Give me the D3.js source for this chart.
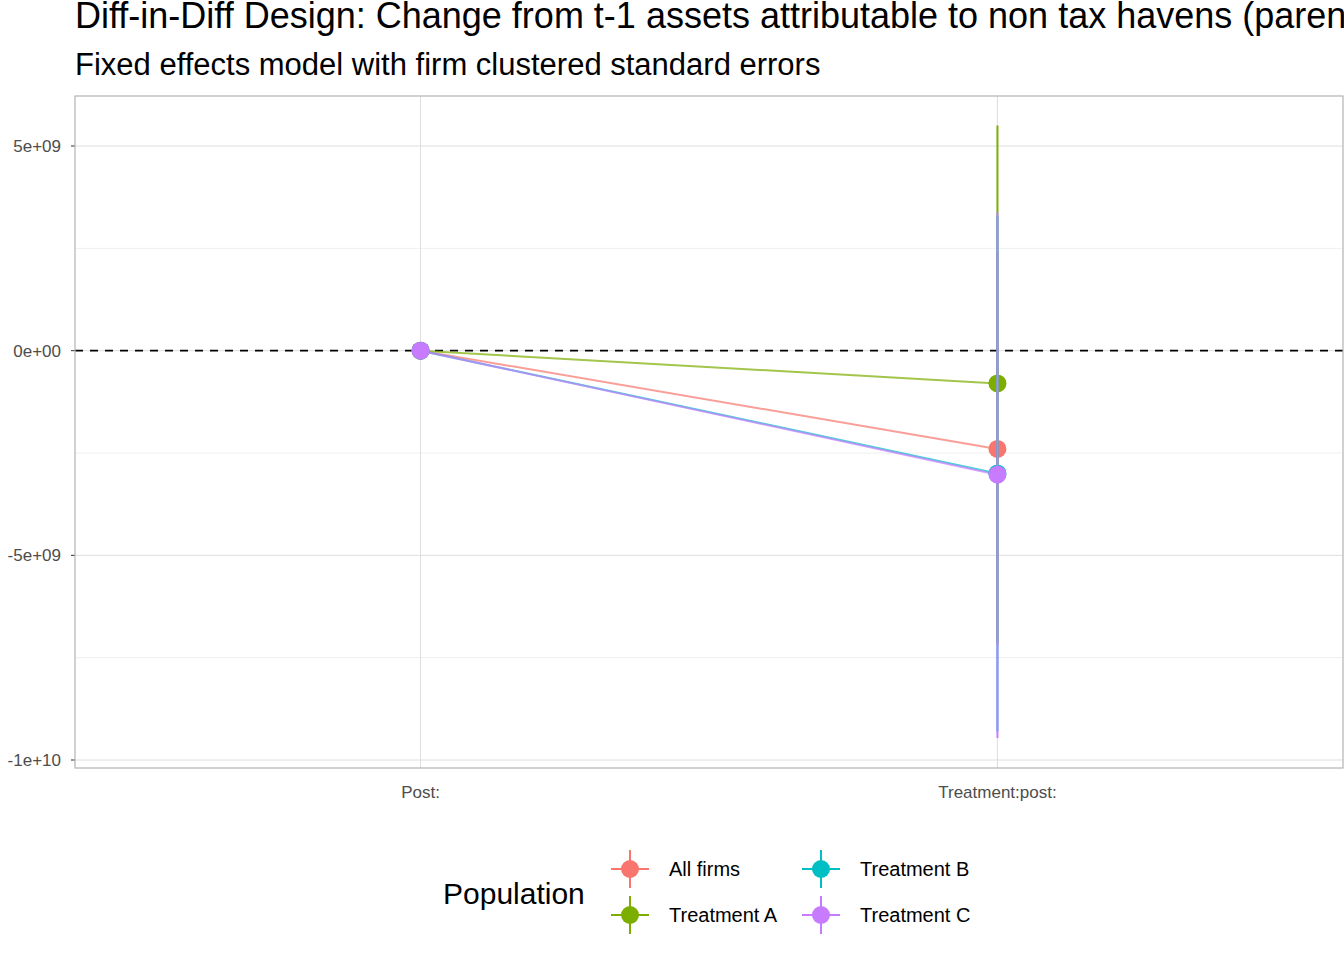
<!DOCTYPE html>
<html><head><meta charset="utf-8">
<script src="https://cdn.jsdelivr.net/npm/d3@7"></script>
<style>body{margin:0;background:#fff;font-family:Arial,"Liberation Sans",sans-serif;overflow:hidden}</style>
</head><body><div id="chart"></div>
<script>
const terms = ["Post:", "Treatment:post:"];
const populations = ["All firms", "Treatment A", "Treatment B", "Treatment C"];
const colors = ["#F8766D", "#7CAE00", "#00BFC4", "#C77CFF"];
// estimate, lower, upper per population for each term
const postEst = [0, 0, 0, 0];
const postLo = [-5e7, -5e7, -5e7, -5e7];
const postHi = [5e7, 5e7, 5e7, 5e7];
const tpEst = [-2.4e9, -0.8e9, -3.0e9, -3.03e9];
const tpLo = [-7.2e9, -7.1e9, -9.3e9, -9.46e9];
const tpHi = [2.4e9, 5.5e9, 3.3e9, 3.39e9];

const W = 1344, H = 960;
const svg = d3.select("#chart").append("svg").attr("width", W).attr("height", H);
const L = 75, R = 1343, T = 96, B = 768;

const x = d3.scalePoint().domain(terms).range([L, R]).padding(0.599);
const y = d3.scaleLinear().domain([-1e10, 5e9]).range([760, 146]);

const minor = [-7.5e9, -2.5e9, 2.5e9];
svg.selectAll(".mg").data(minor).enter().append("line")
  .attr("x1", L).attr("x2", R).attr("y1", d => y(d)).attr("y2", d => y(d))
  .attr("stroke", "#ebebeb").attr("stroke-width", 0.8);
const major = [-1e10, -5e9, 0, 5e9];
svg.selectAll(".Mg").data(major).enter().append("line")
  .attr("x1", L).attr("x2", R).attr("y1", d => y(d)).attr("y2", d => y(d))
  .attr("stroke", "#dedede").attr("stroke-width", 1);
svg.selectAll(".vg").data(terms).enter().append("line")
  .attr("x1", d => x(d)).attr("x2", d => x(d)).attr("y1", T).attr("y2", B)
  .attr("stroke", "#dedede").attr("stroke-width", 1);
svg.append("line").attr("x1", L).attr("x2", R).attr("y1", y(0)).attr("y2", y(0))
  .attr("stroke", "#000").attr("stroke-width", 1.6).attr("stroke-dasharray", "8,7");

const fmt = d => d === 0 ? "0e+00" : (d < 0 ? "-" : "") + (Math.abs(d) / Math.pow(10, Math.floor(Math.log10(Math.abs(d))))) + "e+" + String(Math.floor(Math.log10(Math.abs(d)))).padStart(2, "0");
svg.selectAll(".yl").data(major).enter().append("text")
  .attr("x", L - 14).attr("y", d => y(d) + 6).attr("text-anchor", "end")
  .attr("font-size", 17).attr("fill", "#4d4d4d").text(fmt);
svg.selectAll(".yt").data(major).enter().append("line")
  .attr("x1", L - 4).attr("x2", L).attr("y1", d => y(d)).attr("y2", d => y(d)).attr("stroke", "#333");
svg.selectAll(".xl").data(terms).enter().append("text")
  .attr("x", d => x(d)).attr("y", 798).attr("text-anchor", "middle")
  .attr("font-size", 17).attr("fill", "#4d4d4d").text(d => d);

populations.forEach((p, i) => {
  svg.append("line").attr("x1", x(terms[0])).attr("y1", y(postEst[i]))
    .attr("x2", x(terms[1])).attr("y2", y(tpEst[i]))
    .attr("stroke", colors[i]).attr("stroke-width", 2).attr("opacity", 0.7);
});
populations.forEach((p, i) => {
  const c = colors[i];
  [[postEst, postLo, postHi, 0], [tpEst, tpLo, tpHi, 1]].forEach(([e, lo, hi, k]) => {
    svg.append("line").attr("x1", x(terms[k])).attr("x2", x(terms[k]))
      .attr("y1", y(lo[i])).attr("y2", y(hi[i])).attr("stroke", c).attr("stroke-width", 2);
    svg.append("circle").attr("cx", x(terms[k])).attr("cy", y(e[i])).attr("r", 9).attr("fill", c);
  });
});
svg.append("rect").attr("x", L).attr("y", T).attr("width", R - L).attr("height", B - T)
  .attr("fill", "none").attr("stroke", "#b3b3b3").attr("stroke-width", 1.2);

svg.append("text").attr("x", 75).attr("y", 28).attr("font-size", 36).attr("fill", "#000")
  .text("Diff-in-Diff Design: Change from t-1 assets attributable to non tax havens (parent)");
svg.append("text").attr("x", 75).attr("y", 75).attr("font-size", 31).attr("fill", "#000")
  .text("Fixed effects model with firm clustered standard errors");

svg.append("text").attr("x", 443).attr("y", 904).attr("font-size", 30).text("Population");
const lx = [630, 821], ly = [869, 915];
populations.forEach((p, i) => {
  const cx = lx[Math.floor(i / 2)], cy = ly[i % 2];
  const g = svg.append("g");
  g.append("line").attr("x1", cx - 19).attr("x2", cx + 19).attr("y1", cy).attr("y2", cy).attr("stroke", colors[i]).attr("stroke-width", 2);
  g.append("line").attr("x1", cx).attr("x2", cx).attr("y1", cy - 19).attr("y2", cy + 19).attr("stroke", colors[i]).attr("stroke-width", 2);
  g.append("circle").attr("cx", cx).attr("cy", cy).attr("r", 9).attr("fill", colors[i]);
  g.append("text").attr("x", cx + 39).attr("y", cy + 7).attr("font-size", 20).text(p);
});
</script></body></html>
